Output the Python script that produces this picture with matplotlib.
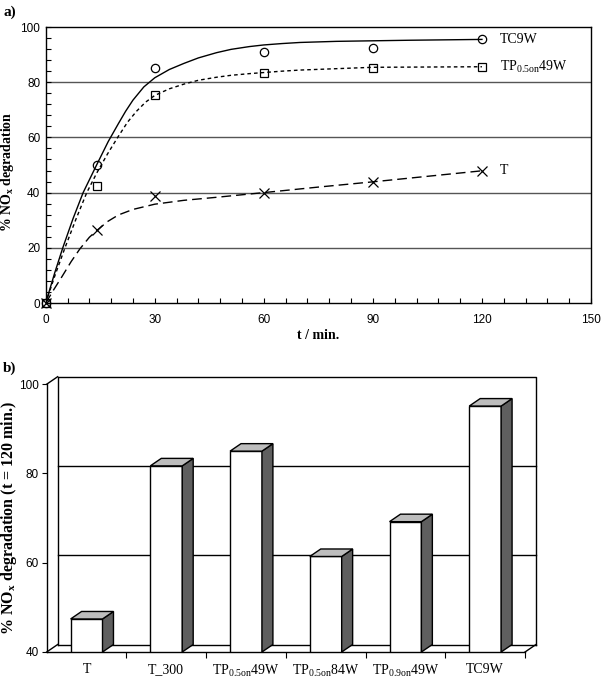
import matplotlib
matplotlib.use("Agg")
import matplotlib.pyplot as plt
from matplotlib.patches import Polygon
from matplotlib.ticker import MultipleLocator, FixedLocator, NullFormatter

plt.rcParams['font.family'] = ['Liberation Sans', 'DejaVu Sans']
plt.rcParams['mathtext.fontset'] = 'custom'
plt.rcParams['mathtext.rm'] = 'Liberation Serif'
plt.rcParams['mathtext.it'] = 'Liberation Serif:italic'
plt.rcParams['mathtext.bf'] = 'Liberation Serif:bold'

# ---------------- data: panel a ----------------
time_pts = [0, 14, 30, 60, 90, 120]
tc9w_pts = [0, 50, 85, 91, 92.5, 95.5]
tp049_pts = [0, 42.5, 75.4, 83.4, 85.3, 85.6]
t_pts = [0, 26.4, 38.8, 39.8, 43.9, 47.9]

# fitted curves
tc9w_fit_t = [0, 2.5, 4.7, 7.5, 10.3, 14, 17.2, 20, 22, 24, 27, 30, 34, 38, 42, 47, 51, 56, 60, 65, 70, 80, 100, 120]
tc9w_fit_v = [0, 11, 20, 30.5, 40, 50, 58.5, 65, 69.5, 73.5, 78.3, 81.6, 84.6, 86.8, 88.8, 90.7, 91.9, 92.9, 93.5, 94.0, 94.4, 94.8, 95.2, 95.5]
tp_fit_t = [0, 2.5, 5.3, 8.3, 11.3, 14, 17, 19.8, 22.5, 25, 27.5, 30, 34, 38, 42, 47, 51, 56, 65, 70, 90, 120]
tp_fit_v = [0, 9.8, 20, 30.3, 40, 47, 54, 60, 65.5, 69.5, 72.8, 75.2, 77.6, 79.3, 80.7, 81.8, 82.5, 83.1, 84.0, 84.4, 85.4, 85.6]
t_fit_t = [0, 2.2, 4.4, 7, 9.4, 12, 14, 17, 20, 24, 30, 38, 47, 60, 75, 90, 120]
t_fit_v = [0, 4.8, 9.4, 15, 19.6, 23.8, 26.2, 29.5, 31.9, 33.9, 35.8, 37.2, 38.3, 40.0, 42.0, 43.9, 47.9]

curve_labels = ['TC9W', r'TP$_{\mathrm{0.5on}}$49W', 'T']

# ---------------- data: panel b ----------------
categories = ['T', 'T_300', r'TP$_{\mathrm{0.5on}}$49W', r'TP$_{\mathrm{0.5on}}$84W',
              r'TP$_{\mathrm{0.9on}}$49W', 'TC9W']
values_120 = [47.4, 81.7, 85.0, 61.4, 69.2, 95.1]

serif = 'Liberation Serif'

fig = plt.figure(figsize=(6.02, 6.79), dpi=100)

# ================= panel a =================
ax = fig.add_axes([45.7/602, 1-303/679, (591-45.7)/602, (303-27)/679])
ax.set_xlim(0, 150)
ax.set_ylim(0, 100)
for yv in [20, 40, 60, 80]:
    ax.axhline(yv, color='#555555', lw=1.0, zorder=1)

kw = dict(color='black', lw=1.0, zorder=3)
ax.plot(tc9w_fit_t, tc9w_fit_v, ls='-', **kw)
ax.plot(tp_fit_t, tp_fit_v, ls=(0, (2.6, 2.2)), **kw)
ax.plot(t_fit_t, t_fit_v, ls=(0, (7, 3.6)), **kw)

mk = dict(ls='none', mfc='none', mec='black', mew=0.9, clip_on=False, zorder=4)
ax.plot(time_pts, tc9w_pts, marker='o', ms=6, **mk)
ax.plot(time_pts, tp049_pts, marker='s', ms=5.5, **mk)
ax.plot(time_pts, t_pts, marker='x', ms=7, **mk)

for lab, yv in zip(curve_labels, [tc9w_pts[-1], tp049_pts[-1], t_pts[-1]]):
    ax.text(125, yv, lab, fontsize=10, family=serif, va='center', ha='left')

ax.xaxis.set_major_locator(MultipleLocator(30))
ax.xaxis.set_minor_locator(MultipleLocator(6))
ax.yaxis.set_major_locator(MultipleLocator(20))
ax.yaxis.set_minor_locator(MultipleLocator(4))
ax.tick_params(axis='both', which='both', direction='in', length=3.5, width=0.8,
               top=False, right=False, labelsize=8.5)
ax.tick_params(axis='x', pad=8)
ax.tick_params(axis='y', pad=4)
for s in ax.spines.values():
    s.set_linewidth(1.0)
ax.set_xlabel('t / min.', family=serif, fontweight='bold', fontsize=10, labelpad=2)
ax.set_ylabel(r'% NO$_\mathbf{x}$ degradation', family=serif, fontweight='bold',
              fontsize=10)
ax.yaxis.set_label_coords((16 - 45.7) / 545.3, 0.475)
fig.text(3/602, 1-16/679, 'a)', family=serif, fontweight='bold', fontsize=11)

# ================= panel b =================
dx = 0.1375   # depth offset in category units
dy = 1.68     # depth offset in value units
x0, x1 = -0.5, 5.5
ymin, ymax = 40, 100
bx = fig.add_axes([46.7/602, 1-652/679, (536-46.7)/602, (652-376.7)/679])
bx.set_xlim(x0, x1 + dx)
bx.set_ylim(ymin, ymax + dy)
for s in ['top', 'right']:
    bx.spines[s].set_visible(False)
bx.spines['left'].set_bounds(ymin, ymax)
bx.spines['bottom'].set_bounds(x0, x1)
bx.spines['left'].set_linewidth(1.0)
bx.spines['bottom'].set_linewidth(1.0)

lc = dict(color='black', lw=1.0, zorder=1, clip_on=False)
# back wall
bx.plot([x0+dx, x0+dx, x1+dx, x1+dx], [ymin+dy, ymax+dy, ymax+dy, ymin+dy], **lc)
for yv in [60, 80]:
    bx.plot([x0+dx, x1+dx], [yv+dy, yv+dy], **lc)
# floor back edge and side diagonals
bx.plot([x0+dx, x1+dx], [ymin+dy, ymin+dy], **lc)
bx.plot([x0, x0+dx], [ymin, ymin+dy], **lc)
bx.plot([x1, x1+dx], [ymin, ymin+dy], **lc)
bx.plot([x0, x0+dx], [ymax, ymax+dy], **lc)

w = 0.4
xs = list(range(len(categories)))
bx.bar(xs, [v - ymin for v in values_120], bottom=ymin, width=w,
       facecolor='white', edgecolor='black', lw=1.0, zorder=3)
for xc, v in zip(xs, values_120):
    r = xc + w/2
    l = xc - w/2
    side = Polygon([(r, ymin), (r+dx, ymin+dy), (r+dx, v+dy), (r, v)], closed=True,
                   facecolor='#5f5f5f', edgecolor='black', lw=1.0, zorder=3)
    top = Polygon([(l, v), (r, v), (r+dx, v+dy), (l+dx, v+dy)], closed=True,
                  facecolor='#bdbdbd', edgecolor='black', lw=1.0, zorder=3)
    bx.add_patch(side)
    bx.add_patch(top)

bx.yaxis.set_major_locator(FixedLocator([40, 60, 80, 100]))
bx.tick_params(axis='y', direction='out', length=3.5, width=0.8, labelsize=8.5, pad=2)
bx.xaxis.set_major_locator(FixedLocator([x + 0.5 for x in xs]))
bx.xaxis.set_major_formatter(NullFormatter())
bx.xaxis.set_minor_locator(FixedLocator(xs))
bx.set_xticks(xs, minor=True)
bx.set_xticklabels(categories, minor=True, family=serif, fontsize=10)
bx.tick_params(axis='x', which='major', direction='out', length=4, width=0.8)
bx.tick_params(axis='x', which='minor', length=0, pad=8)
bx.set_ylabel(r'% NO$_\mathbf{x}$ degradation (t = 120 min.)', family=serif,
              fontweight='bold', fontsize=11.5)
bx.yaxis.set_label_coords((19 - 46.7) / 489.3, 0.487)
fig.text(3/602, 1-372/679, 'b)', family=serif, fontweight='bold', fontsize=11)

fig.savefig('out.png', dpi=100)
